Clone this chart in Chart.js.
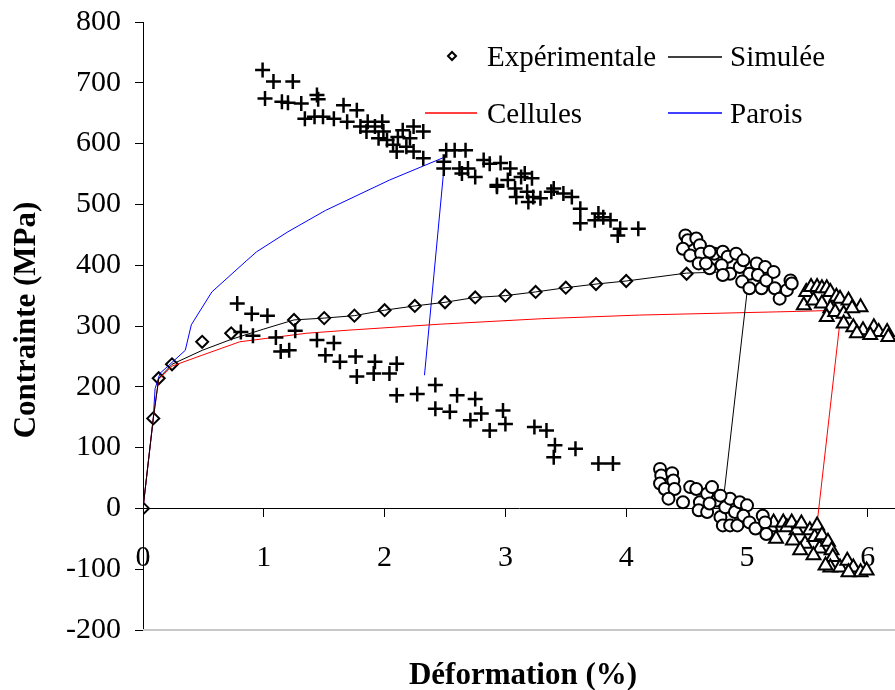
<!DOCTYPE html>
<html>
<head>
<meta charset="utf-8">
<script src="https://cdn.jsdelivr.net/npm/chart.js@4.4.1/dist/chart.umd.min.js"></script>
<style>
  html, body { margin: 0; padding: 0; background: #fff; }
  #wrap { width: 895px; height: 690px; position: relative; }
</style>
</head>
<body>
<div id="wrap"><canvas id="c"></canvas></div>
<script>
// ====== données ======
const xTicks = [0, 1, 2, 3, 4, 5, 6];
const xMax = 6.225;

// courbe expérimentale (losanges)
const expX = [0, 0.085, 0.13, 0.24, 0.49, 0.73, 1.25, 1.5, 1.75, 2.0, 2.25, 2.5, 2.75, 3.0, 3.25, 3.5, 3.75, 4.0, 4.5];
const expY = [0, 148, 214, 237, 274, 288, 310, 313, 317, 326, 333, 339, 347, 350, 356, 363, 369, 374, 386];

// simulée (noir)
const simX = [0, 0.085, 0.13, 0.24, 0.49, 0.73, 1.0, 1.25, 1.5, 1.75, 2.0, 2.25, 2.5, 2.75, 3.0, 3.25, 3.5, 3.75, 4.0, 4.5, 5.02, 4.81];
const simY = [0, 148, 214, 237, 260, 278, 295, 310, 313, 317, 326, 333, 339, 347, 350, 356, 363, 369, 374, 387, 390, 24];

// cellules (rouge)
const celX = [0, 0.085, 0.13, 0.24, 0.49, 0.73, 0.8, 1.35, 1.69, 2.46, 3.3, 4.11, 5.41, 5.78, 5.58];
const celY = [0, 148, 212, 234, 252, 269, 274, 288, 293, 303, 312, 318, 324, 326, -25];

// parois (bleu)
const parX = [0, 0.085, 0.1, 0.14, 0.24, 0.35, 0.40, 0.57, 0.86, 0.94, 1.2, 1.51, 2.04, 2.5, 2.33];
const parY = [0, 148, 197, 222, 240, 260, 302, 356, 408, 422, 455, 490, 540, 578, 219];

// nuages de croix
const plusHaut = [[0.99,721],[1.08,702],[1.24,702],[1.01,674],[1.15,669],[1.20,667],[1.31,666],[1.44,680],[1.45,673],
  [1.34,641],[1.42,644],[1.49,644],[1.58,641],[1.66,663],[1.77,655],[1.69,636],[1.80,628],[1.86,636],[1.85,620],
  [1.92,628],[1.98,636],[1.99,620],[1.95,609],[2.02,606],[2.07,598],[2.11,611],[2.15,622],[2.24,628],[2.32,620],
  [2.21,609],[2.18,595],[2.10,587],[2.24,587],[2.32,576],[2.51,589],[2.58,589],[2.67,589],[2.49,570],[2.49,559],
  [2.62,559],[2.69,559],[2.64,551],[2.75,545],[2.82,573],[2.87,567],[2.93,532],[2.96,568],[3.04,559],[2.93,529],
  [3.02,540],[3.08,526],[3.09,512],[3.13,545],[3.16,551],[3.22,543],[3.18,521],[3.19,504],[3.23,512],[3.29,510],
  [3.38,521],[3.40,526],[3.48,518],[3.55,512],[3.62,493],[3.62,469],[3.74,474],[3.77,485],[3.81,479],[3.87,474],
  [3.95,460],[3.93,449],[4.10,460]];
const plusBas = [[0.78,337],[0.90,320],[1.03,317],[0.81,290],[0.91,284],[1.10,281],[1.26,292],[1.14,258],[1.21,260],
  [1.44,277],[1.58,272],[1.51,252],[1.63,241],[1.76,250],[1.77,217],[1.92,241],[1.91,222],[2.04,222],[2.10,238],
  [2.10,186],[2.27,188],[2.42,203],[2.42,164],[2.60,186],[2.75,180],[2.54,159],[2.71,145],[2.80,156],[2.98,161],
  [2.87,128],[3.00,139],[3.24,134],[3.34,128],[3.41,104],[3.40,84],[3.58,98],[3.77,74],[3.89,74]];

// cercles
const cercHaut = [[4.49,449],[4.51,441],[4.58,444],[4.47,427],[4.53,416],[4.61,433],[4.62,419],[4.60,403],[4.69,395],
  [4.73,419],[4.80,422],[4.84,414],[4.91,419],[4.79,400],[4.86,386],[4.94,397],[4.80,384],[4.97,408],[5.02,386],
  [5.08,403],[5.15,397],[5.09,384],[4.96,373],[5.02,362],[5.12,362],[5.16,375],[5.22,389],[5.23,362],[5.27,345],
  [5.36,375],[5.33,359],[5.37,370],[4.69,422],[4.66,403]];
const cercBas = [[4.28,65],[4.29,54],[4.38,58],[4.28,41],[4.32,32],[4.39,46],[4.40,32],[4.35,16],[4.47,10],[4.53,35],
  [4.58,32],[4.61,10],[4.67,24],[4.71,35],[4.60,-3],[4.67,-6],[4.75,13],[4.78,-14],[4.82,2],[4.86,16],[4.90,-6],
  [4.94,10],[4.80,-28],[4.86,-28],[4.92,-28],[5.00,5],[4.97,-12],[5.02,-23],[5.07,-33],[5.13,-12],[5.15,-23],
  [5.16,-42],[4.78,21],[4.69,8]];

// triangles
const triHaut = [[5.47,334],[5.49,356],[5.53,364],[5.58,364],[5.62,362],[5.66,362],[5.69,356],[5.74,348],[5.77,345],
  [5.84,342],[5.94,331],[5.55,342],[5.62,337],[5.69,329],[5.66,315],[5.73,323],[5.80,320],[5.87,329],[5.80,304],
  [5.88,298],[5.96,293],[5.91,288],[6.05,298],[6.09,290],[6.16,290],[6.02,285],[6.17,282]];
const triBas = [[5.20,-31],[5.22,-23],[5.24,-50],[5.30,-23],[5.33,-31],[5.37,-23],[5.41,-36],[5.45,-25],[5.48,-58],
  [5.52,-36],[5.56,-47],[5.58,-28],[5.62,-44],[5.60,-66],[5.67,-55],[5.70,-69],[5.71,-80],[5.69,-97],[5.77,-97],
  [5.83,-86],[5.88,-97],[5.94,-105],[5.99,-102],[5.38,-53],[5.44,-69],[5.55,-77],[5.65,-94],[5.84,-105]];

// ====== helpers ======
const serif = '"Liberation Serif", "Times New Roman", serif';
const xy = (xs, ys) => xs.map((x, i) => ({ x, y: ys[i] }));
const pts = (arr) => arr.map(([x, y]) => ({ x, y }));
const line = (data, color) => ({ type: 'line', data, borderColor: color, borderWidth: 1, pointRadius: 0, fill: false, tension: 0 });
const marks = (data, style, r, fill, bw = 2) => ({ type: 'scatter', data, pointStyle: style, pointRadius: r, pointHoverRadius: r,
  pointBackgroundColor: fill, pointBorderColor: '#000', pointBorderWidth: bw, showLine: false });

// légende, titres, bord bas
const deco = {
  id: 'deco',
  afterDraw(chart) {
    const { ctx, chartArea, scales } = chart;
    ctx.save();
    // bord bas gris
    const yb = scales.y.getPixelForValue(-200);
    ctx.strokeStyle = '#c8c8c8'; ctx.lineWidth = 2;
    ctx.beginPath(); ctx.moveTo(chartArea.left, yb); ctx.lineTo(chartArea.right, yb); ctx.stroke();

    // titres d'axes
    ctx.fillStyle = '#000';
    ctx.font = 'bold 31px ' + serif;
    ctx.textAlign = 'center'; ctx.textBaseline = 'alphabetic';
    ctx.fillText('Déformation (%)', 523, 684);
    ctx.save();
    ctx.translate(35, 320); ctx.rotate(-Math.PI / 2);
    ctx.fillText('Contrainte (MPa)', 0, 0);
    ctx.restore();

    // légende
    ctx.font = '29px ' + serif;
    ctx.textAlign = 'left';
    ctx.lineWidth = 2; ctx.strokeStyle = '#000';
    ctx.beginPath();
    ctx.moveTo(452, 52); ctx.lineTo(456, 56); ctx.lineTo(452, 60); ctx.lineTo(448, 56); ctx.closePath();
    ctx.stroke();
    ctx.fillText('Expérimentale', 487, 66);
    ctx.fillText('Simulée', 730, 66);
    ctx.fillText('Cellules', 487, 123);
    ctx.fillText('Parois', 730, 123);
    const legLines = [[668, 722, 57, '#000000'], [425, 477, 113, '#ff0000'], [668, 722, 113, '#0000ff']];
    legLines.forEach(([a, b, y, c]) => {
      ctx.strokeStyle = c;
      ctx.lineWidth = 1.5;
      ctx.beginPath(); ctx.moveTo(a, y); ctx.lineTo(b, y); ctx.stroke();
    });
    ctx.restore();
  }
};

new Chart(document.getElementById('c'), {
  data: {
    datasets: [
      marks(pts(cercHaut), 'circle', 6, '#fff'),
      marks(pts(cercBas), 'circle', 6, '#fff'),
      marks(pts(triHaut), 'triangle', 8, '#fff'),
      marks(pts(triBas), 'triangle', 8, '#fff'),
      marks(pts(plusHaut), 'cross', 7.5, '#000', 2.5),
      marks(pts(plusBas), 'cross', 7.5, '#000', 2.5),
      line(xy(simX, simY), '#000'),
      line(xy(celX, celY), '#ff0000'),
      line(xy(parX, parY), '#0000ff'),
      marks(xy(expX, expY), 'rectRot', 6, 'rgba(0,0,0,0)')
    ]
  },
  options: {
    responsive: true,
    maintainAspectRatio: false,
    animation: false,
    events: [],
    layout: { autoPadding: false, padding: { top: 22, bottom: 60, left: 0, right: 0 } },
    plugins: { legend: { display: false }, tooltip: { enabled: false } },
    scales: {
      x: {
        type: 'linear', min: 0, max: xMax,
        position: { y: 0 },
        afterBuildTicks: (s) => { s.ticks = xTicks.map(v => ({ value: v })); },
        afterFit: (s) => { s.paddingLeft = 0; s.paddingRight = 0; },
        grid: { drawOnChartArea: false, drawTicks: true, tickLength: 8, color: '#000' },
        border: { display: true, color: '#000', width: 1 },
        ticks: { color: '#000', padding: 24, maxRotation: 0, font: { family: serif, size: 30 } }
      },
      y: {
        type: 'linear', min: -200, max: 800,
        position: 'left',
        afterFit: (s) => { s.width = 143; s.paddingTop = 0; s.paddingBottom = 0; },
        grid: { drawOnChartArea: false, drawTicks: true, tickLength: 8, color: '#000' },
        border: { display: true, color: '#000', width: 1 },
        ticks: { stepSize: 100, color: '#000', padding: 14, font: { family: serif, size: 30 } }
      }
    }
  },
  plugins: [deco]
});
</script>
</body>
</html>
